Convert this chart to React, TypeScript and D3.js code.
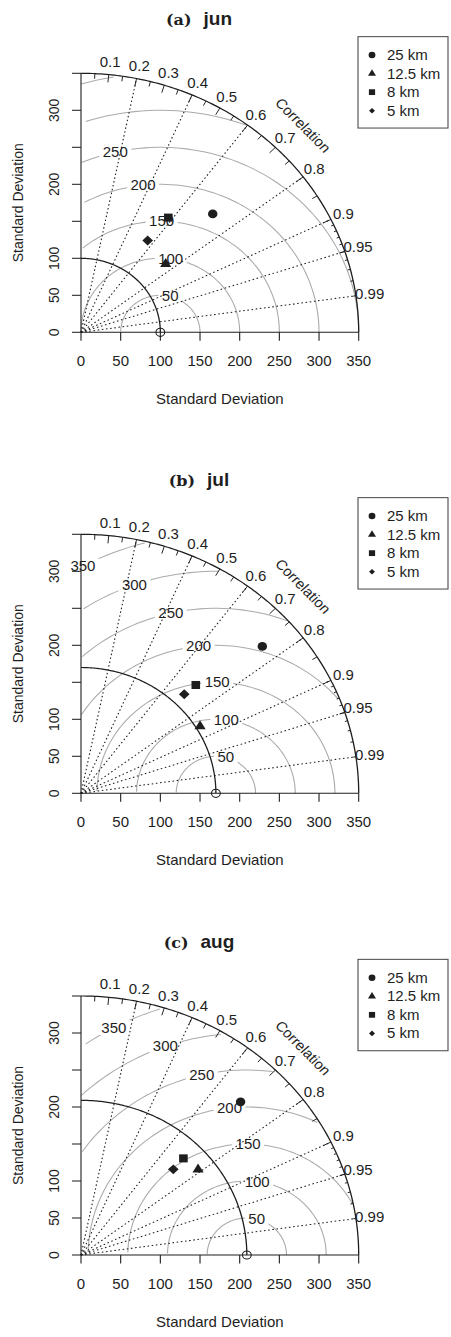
import React from "react";
import * as d3 from "d3";

// ---------- data ----------
const panelLetters = ["(a)", "(b)", "(c)"];
const months = ["jun", "jul", "aug"];
const models = ["25 km", "12.5 km", "8 km", "5 km"];
const shapes = ["circle", "triangle", "square", "diamond"];
const refSD = [100, 170, 209];
const sdJun = [230.6, 141.2, 190.1, 149.8];
const corJun = [0.72, 0.756, 0.579, 0.561];
const sdJul = [302.7, 175.3, 205.8, 186.7];
const corJul = [0.755, 0.856, 0.703, 0.697];
const sdAug = [288.6, 187.5, 183.6, 164.1];
const corAug = [0.697, 0.787, 0.703, 0.709];
const sdByPanel = [sdJun, sdJul, sdAug];
const corByPanel = [corJun, corJul, corAug];

const maxSD = 350;
const xTicks = [0, 50, 100, 150, 200, 250, 300, 350];
const yTicks = [0, 50, 100, 150, 200, 250, 300, 350];
const yTickLabels = [0, 50, 100, 200, 300];
const gammaLevels = [50, 100, 150, 200, 250, 300, 350];
const corrBigTicks = [0.1, 0.2, 0.3, 0.4, 0.5, 0.6, 0.7, 0.8, 0.9];
const corrMedTicks = [0.05, 0.15, 0.25, 0.35, 0.45, 0.55, 0.65, 0.75, 0.85, 0.95];
const corrSmlTicks = [0.91, 0.92, 0.93, 0.94, 0.95, 0.96, 0.97, 0.98, 0.99];
const corrLabels = [0.1, 0.2, 0.3, 0.4, 0.5, 0.6, 0.7, 0.8, 0.9, 0.95, 0.99];
const corrLines = [0.2, 0.4, 0.6, 0.8, 0.9, 0.95, 0.99];

// ---------- layout ----------
const W = 451;
const H = 1337;
const K = 259 / 277.7; // vertical squash of the picture
const panelBase = [332.3, 793.3, 1255];
const SANS = "'Liberation Sans', Arial, Helvetica, sans-serif";
const INK = "#1e1e1e";
const GAMMA_COL = "#ababab";

const xs = d3.scaleLinear().domain([0, maxSD]).range([81, 358.7]);
const ys = d3.scaleLinear().domain([0, maxSD]).range([0, -277.7]);
const line = d3
  .line<[number, number]>()
  .x((d) => xs(d[0]))
  .y((d) => ys(d[1]));

const arcPts = (r: number, cx = 0, a0 = 0, a1 = Math.PI / 2, step = 0.01) => {
  const pts: [number, number][] = [];
  for (let a = a0; a <= a1 + 1e-9; a += step) pts.push([cx + r * Math.cos(a), r * Math.sin(a)]);
  pts.push([cx + r * Math.cos(a1), r * Math.sin(a1)]);
  return pts;
};

function Marker({ shape, x, y, s }: { shape: string; x: number; y: number; s: number }) {
  if (shape === "circle") return <circle cx={x} cy={y} r={s * 0.55} fill={INK} />;
  if (shape === "square") {
    const h = s * 0.5;
    return <rect x={x - h} y={y - h} width={2 * h} height={2 * h} fill={INK} />;
  }
  if (shape === "triangle") {
    const r = s * 0.75;
    const xc = (r * Math.sqrt(3)) / 2;
    return <polygon points={`${x},${y - r} ${x + xc},${y + r / 2} ${x - xc},${y + r / 2}`} fill={INK} />;
  }
  const r = s * 0.62;
  return <polygon points={`${x},${y - r} ${x + r},${y} ${x},${y + r} ${x - r},${y}`} fill={INK} />;
}

function Panel({ idx }: { idx: number }) {
  const sdr = refSD[idx];
  const sds = sdByPanel[idx];
  const cors = corByPanel[idx];
  const angles = d3.range(0, Math.PI, 0.03);
  const nG = gammaLevels.length;
  const labelPos = gammaLevels.map((_, i) => Math.floor(45 + (i * (70 - 45)) / (nG - 1)));

  const gammaEls = gammaLevels.map((g, gi) => {
    const xc = angles.map((a) => Math.cos(a) * g + sdr);
    const yc = angles.map((a) => Math.sin(a) * g);
    const negFirst = xc.findIndex((v) => v < 0);
    const end = negFirst >= 0 ? negFirst : 105;
    let lastOut = -1;
    xc.forEach((v, i) => {
      if (v * v + yc[i] * yc[i] > maxSD * maxSD) lastOut = i;
    });
    const start = lastOut >= 0 ? lastOut + 1 : 0;
    const pts: [number, number][] = [];
    for (let i = start; i < end; i++) pts.push([xc[i], yc[i]]);
    const lp = labelPos[gi] - 1;
    const showLabel = xc[lp] > 0;
    const lx = xs(xc[lp]);
    const ly = ys(yc[lp]);
    const txt = String(g);
    const bw = txt.length * 8.3 + 7;
    return (
      <g key={g}>
        {pts.length > 1 && <path d={line(pts) || ""} fill="none" stroke={GAMMA_COL} strokeWidth={1.1} />}
        {showLabel && (
          <g>
            <rect x={lx - bw / 2} y={ly - 8} width={bw} height={16} fill="white" />
            <text x={lx} y={ly} dy="0.36em" textAnchor="middle" fontSize={15} fill={INK}>
              {txt}
            </text>
          </g>
        )}
      </g>
    );
  });

  const tickSeg = (c: number, f: number, key: string) => {
    const a = Math.acos(c);
    return (
      <line
        key={key}
        x1={xs(Math.cos(a) * maxSD)}
        y1={ys(Math.sin(a) * maxSD)}
        x2={xs(Math.cos(a) * maxSD * f)}
        y2={ys(Math.sin(a) * maxSD * f)}
        stroke={INK}
        strokeWidth={1}
      />
    );
  };

  return (
    <g transform={`translate(0, ${panelBase[idx]}) scale(1, ${K})`} fontFamily={SANS}>
      {/* title */}
      <text x={199} y={-329.2} textAnchor="middle" fill={INK} style={{ whiteSpace: "pre" }}>
        <tspan fontFamily="'DejaVu Serif', serif" fontWeight="bold" fontSize={16}>
          {panelLetters[idx]}
        </tspan>
        <tspan fontFamily={SANS} fontWeight="bold" fontSize={19} dx={12}>
          {months[idx]}
        </tspan>
      </text>

      {/* gamma (centered RMS) contours */}
      {gammaEls}

      {/* correlation radial dotted lines */}
      {corrLines.map((c) => (
        <line
          key={c}
          x1={xs(0)}
          y1={ys(0)}
          x2={xs(maxSD * c)}
          y2={ys(maxSD * Math.sqrt(1 - c * c))}
          stroke={INK}
          strokeWidth={1.1}
          strokeDasharray="1.6 2.6"
        />
      ))}

      {/* outer arc */}
      <path d={line(arcPts(maxSD)) || ""} fill="none" stroke={INK} strokeWidth={1.3} />
      {corrBigTicks.map((c) => tickSeg(c, 0.97, "b" + c))}
      {corrMedTicks.map((c) => tickSeg(c, 0.98, "m" + c))}
      {corrSmlTicks.map((c) => tickSeg(c, 0.99, "s" + c))}

      {/* correlation labels */}
      {corrLabels.map((c) => {
        const a = Math.acos(c);
        return (
          <text
            key={"cl" + c}
            x={xs(Math.cos(a) * maxSD * 1.05)}
            y={ys(Math.sin(a) * maxSD * 1.05)}
            dy="0.36em"
            textAnchor="middle"
            fontSize={15}
            fill={INK}
          >
            {String(c)}
          </text>
        );
      })}
      <text
        transform={`translate(${xs(maxSD * 0.8)}, ${ys(maxSD * 0.8)}) rotate(47)`}
        dy="0.36em"
        textAnchor="middle"
        fontSize={15}
        fill={INK}
      >
        Correlation
      </text>

      {/* reference SD arc */}
      <path d={line(arcPts(sdr)) || ""} fill="none" stroke={INK} strokeWidth={1.3} />

      {/* axes */}
      <line x1={xs(0)} y1={ys(0)} x2={xs(maxSD)} y2={ys(0)} stroke={INK} strokeWidth={1.1} />
      {xTicks.map((t) => (
        <g key={"xt" + t}>
          <line x1={xs(t)} y1={0} x2={xs(t)} y2={9} stroke={INK} strokeWidth={1.1} />
          <text x={xs(t)} y={36.4} textAnchor="middle" fontSize={15} fill={INK}>
            {t}
          </text>
        </g>
      ))}
      <line x1={xs(0)} y1={ys(0)} x2={xs(0)} y2={ys(maxSD)} stroke={INK} strokeWidth={1.1} />
      {yTicks.map((t) => (
        <line key={"yt" + t} x1={xs(0)} y1={ys(t)} x2={xs(0) - 9} y2={ys(t)} stroke={INK} strokeWidth={1.1} />
      ))}
      {yTickLabels.map((t) => (
        <text
          key={"yl" + t}
          transform={`translate(59, ${ys(t)}) rotate(-90)`}
          textAnchor="middle"
          fontSize={15}
          fill={INK}
        >
          {t}
        </text>
      ))}
      <text x={xs(maxSD / 2)} y={76.9} textAnchor="middle" fontSize={15} fill={INK}>
        Standard Deviation
      </text>
      <text
        transform={`translate(23, ${ys(maxSD / 2)}) rotate(-90)`}
        textAnchor="middle"
        fontSize={15}
        fill={INK}
      >
        Standard Deviation
      </text>

      {/* reference point */}
      <circle cx={xs(sdr)} cy={ys(0)} r={4.4} fill="none" stroke={INK} strokeWidth={1.1} />

      {/* model points */}
      {sds.map((sd, i) => (
        <Marker
          key={"p" + i}
          shape={shapes[i]}
          x={xs(sd * cors[i])}
          y={ys(sd * Math.sqrt(1 - cors[i] * cors[i]))}
          s={8.6}
        />
      ))}

      {/* legend */}
      <rect x={358} y={-317} width={90} height={98} fill="white" stroke="#4a4a4a" strokeWidth={1.1} />
      {models.map((m, i) => {
        const cy = -297.3 + i * 19.9;
        return (
          <g key={m}>
            <Marker shape={shapes[i]} x={372} y={cy} s={shapes[i] === "diamond" ? 4.8 : 6.2} />
            <text x={387} y={cy} dy="0.36em" fontSize={15} fill={INK}>
              {m}
            </text>
          </g>
        );
      })}
    </g>
  );
}

export default function App() {
  return (
    <div style={{ position: "absolute", left: 0, top: 0, width: W, height: H, background: "white" }}>
      <svg width={W} height={H} viewBox={`0 0 ${W} ${H}`} style={{ display: "block" }}>
        <rect width={W} height={H} fill="white" />
        {[0, 1, 2].map((i) => (
          <Panel key={i} idx={i} />
        ))}
      </svg>
    </div>
  );
}
